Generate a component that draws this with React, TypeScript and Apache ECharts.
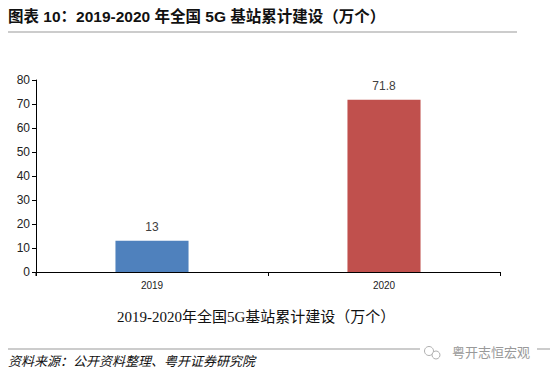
import React, { useEffect, useRef } from "react";
import * as echarts from "echarts";

const categories = ["2019", "2020"];
const values = [13, 71.8];
const barColors = ["#4F81BD", "#C0504D"];
const yTicks = { min: 0, max: 80, interval: 10 };

export default function App() {
  const ref = useRef<HTMLDivElement>(null);
  useEffect(() => {
    const chart = echarts.init(ref.current!, null, { renderer: "svg" });
    chart.setOption({
      animation: false,
      backgroundColor: "#ffffff",
      grid: { left: 36, right: 50, top: 80, bottom: 107 },
      xAxis: {
        type: "category",
        data: categories,
        axisLine: { lineStyle: { color: "#000", width: 1 } },
        axisTick: { show: true, alignWithLabel: false, length: 4, lineStyle: { color: "#000" } },
        axisLabel: { color: "#222", fontSize: 10, fontFamily: "Arial, Liberation Sans", margin: 8 },
      },
      yAxis: {
        type: "value",
        min: yTicks.min,
        max: yTicks.max,
        interval: yTicks.interval,
        axisLine: { show: true, lineStyle: { color: "#000", width: 1 } },
        axisTick: { show: true, length: 4, lineStyle: { color: "#000" } },
        splitLine: { show: false },
        axisLabel: { color: "#222", fontSize: 12, fontFamily: "Arial, Liberation Sans", margin: 6 },
      },
      series: [
        {
          type: "bar",
          barWidth: "31.5%",
          data: values.map((v, i) => ({ value: v, itemStyle: { color: barColors[i] } })),
          label: {
            show: true,
            position: "top",
            distance: 8,
            color: "#404040",
            fontSize: 12,
            fontFamily: "Arial, Liberation Sans",
          },
        },
      ],
      graphic: [
        {
          type: "text",
          left: 8,
          top: 9,
          style: {
            text: "图表 10：2019-2020 年全国 5G 基站累计建设（万个）",
            font: "bold 15.5px 'Liberation Sans', 'Noto Sans CJK SC'",
            fill: "#111",
          },
        },
        {
          type: "line",
          shape: { x1: 8, y1: 32, x2: 517, y2: 32 },
          style: { stroke: "#999", lineWidth: 1 },
        },
        {
          type: "line",
          shape: { x1: 36, y1: 272, x2: 36, y2: 276 },
          style: { stroke: "#000", lineWidth: 1 },
        },
        {
          type: "text",
          left: 117,
          top: 309,
          style: {
            text: "2019-2020年全国5G基站累计建设（万个）",
            font: "15px 'Liberation Serif', 'Noto Sans CJK SC'",
            fill: "#111",
          },
        },
        {
          type: "line",
          shape: { x1: 8, y1: 349, x2: 550, y2: 349 },
          style: { stroke: "#999", lineWidth: 1 },
        },
        {
          type: "rect",
          shape: { x: 420, y: 342, width: 117, height: 18 },
          style: { fill: "#ffffff" },
        },
        {
          type: "text",
          left: 8,
          top: 354,
          style: {
            text: "资料来源：公开资料整理、粤开证券研究院",
            font: "italic 13px 'Noto Sans CJK SC'",
            fill: "#111",
          },
        },
        {
          type: "circle",
          shape: { cx: 429, cy: 351, r: 4.5 },
          style: { fill: "none", stroke: "#b0b0b0", lineWidth: 1 },
        },
        {
          type: "circle",
          shape: { cx: 436, cy: 355, r: 4 },
          style: { fill: "#fff", stroke: "#b0b0b0", lineWidth: 1 },
        },
        {
          type: "text",
          left: 452,
          top: 345,
          style: {
            text: "粤开志恒宏观",
            font: "13px 'Noto Sans CJK SC'",
            fill: "#999",
          },
        },
      ],
    });
    return () => chart.dispose();
  }, []);
  return <div ref={ref} style={{ width: 550, height: 379, position: "absolute", left: 0, top: 0 }} />;
}
